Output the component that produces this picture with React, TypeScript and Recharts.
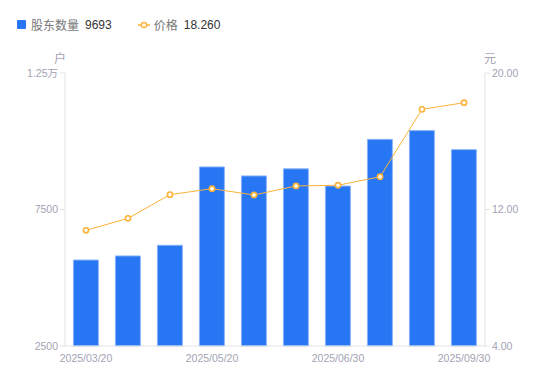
import React from 'react';
import { ComposedChart, Bar, Line, XAxis, YAxis } from 'recharts';

const dates = [
  '2025/03/20', '2025/03/31', '2025/04/30', '2025/05/20', '2025/05/31',
  '2025/06/10', '2025/06/30', '2025/07/31', '2025/08/31', '2025/09/30',
];
const holders = [5650, 5800, 6190, 9060, 8730, 8990, 8360, 10070, 10390, 9693];
const prices = [10.78, 11.48, 12.87, 13.22, 12.85, 13.38, 13.42, 13.92, 17.87, 18.26];
const leftTicks = [2500, 7500, 12500];
const rightTicks = [4, 12, 20];

const data = dates.map((d, i) => ({ date: d, holders: holders[i], price: prices[i] }));

const font = '"Liberation Sans", "Noto Sans CJK SC", sans-serif';
const tickStyle = { fill: '#a3a3b3', fontSize: 10.5, fontFamily: font };

export default function App() {
  return (
    <div style={{ position: 'absolute', left: 0, top: 0, width: 550, height: 381, fontFamily: font }}>
      <div style={{ position: 'absolute', left: 17, top: 16, display: 'flex', alignItems: 'center', fontSize: 12 }}>
        <span style={{ width: 9, height: 9, background: '#2776f4', borderRadius: 1, display: 'inline-block', marginRight: 5 }} />
        <span style={{ color: '#777' }}>股东数量</span>
        <span style={{ color: '#333', marginLeft: 6 }}>9693</span>
        <svg width={12} height={10} style={{ marginLeft: 26, marginRight: 4 }}>
          <line x1={0} y1={5} x2={12} y2={5} stroke="#fbb33a" strokeWidth={1.5} />
          <circle cx={6} cy={5} r={2.6} fill="#fff" stroke="#fbb33a" strokeWidth={1.5} />
        </svg>
        <span style={{ color: '#777' }}>价格</span>
        <span style={{ color: '#333', marginLeft: 6 }}>18.260</span>
      </div>
      <div style={{ position: 'absolute', left: 54, top: 49, fontSize: 12, color: '#a3a3b3' }}>户</div>
      <div style={{ position: 'absolute', left: 484, top: 49, fontSize: 12, color: '#a3a3b3' }}>元</div>
      <ComposedChart width={550} height={381} data={data} margin={{ top: 73, right: 0, bottom: 0, left: 0 }} barCategoryGap="20%">
        <XAxis
          dataKey="date"
          interval={2}
          tickLine={false}
          axisLine={{ stroke: '#e3e3e3' }}
          height={35}
          tick={tickStyle}
          tickMargin={3}
        />
        <YAxis
          yAxisId="left"
          width={65}
          domain={[2500, 12500]}
          ticks={leftTicks}
          tickFormatter={(v: number) => (v >= 10000 ? `${v / 10000}万` : `${v}`)}
          axisLine={{ stroke: '#e3e3e3' }}
          tickLine={{ stroke: '#e3e3e3' }}
          tickSize={5}
          tick={tickStyle}
        />
        <YAxis
          yAxisId="right"
          orientation="right"
          width={65}
          domain={[4, 20]}
          ticks={rightTicks}
          tickFormatter={(v: number) => v.toFixed(2)}
          axisLine={{ stroke: '#e3e3e3' }}
          tickLine={{ stroke: '#e3e3e3' }}
          tickSize={5}
          tick={tickStyle}
        />
        <Bar yAxisId="left" dataKey="holders" fill="#2776f4" stroke="#8db6f8" strokeWidth={1} isAnimationActive={false} />
        <Line
          yAxisId="right"
          dataKey="price"
          type="linear"
          stroke="#fbb33a"
          strokeWidth={1}
          dot={{ r: 2.6, fill: '#fff', stroke: '#fbb33a', strokeWidth: 1.6 }}
          isAnimationActive={false}
        />
      </ComposedChart>
    </div>
  );
}
